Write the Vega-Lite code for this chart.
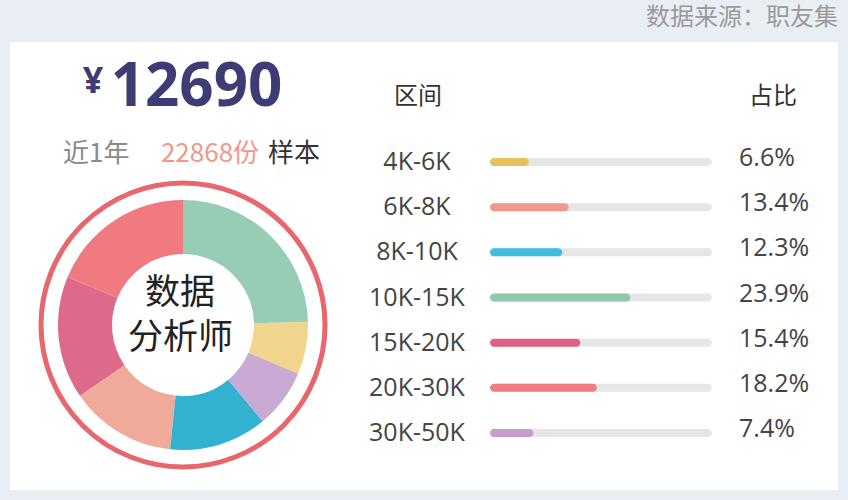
{
  "$schema": "https://vega.github.io/schema/vega-lite/v6.json",
  "background": "#e9eef5",
  "padding": {"left": 10, "right": 10, "top": 6, "bottom": 10},
  "title": {"text": "数据来源：职友集", "anchor": "end", "fontSize": 24, "font": "Noto Sans CJK SC", "fontWeight": "normal", "color": "#9a9a9a", "offset": 12},
  "datasets": {
    "salary": [
      {"range": "4K-6K", "share": 0.066, "slice": 2},
      {"range": "6K-8K", "share": 0.134, "slice": 5},
      {"range": "8K-10K", "share": 0.123, "slice": 4},
      {"range": "10K-15K", "share": 0.239, "slice": 1},
      {"range": "15K-20K", "share": 0.154, "slice": 6},
      {"range": "20K-30K", "share": 0.182, "slice": 7},
      {"range": "30K-50K", "share": 0.074, "slice": 3}
    ]
  },
  "spacing": 0,
  "resolve": {"scale": {"color": "independent"}},
  "hconcat": [
    {
      "spacing": 0,
      "vconcat": [
        {
          "width": 346,
          "height": 128,
          "view": {"fill": "#ffffff", "stroke": null},
          "layer": [
            {
              "data": {"values": [{"t": "¥"}]},
              "mark": {"type": "text", "font": "Open Sans", "fontWeight": "bold", "fontSize": 36, "color": "#3d3c74", "align": "center", "baseline": "alphabetic", "dx": -90, "dy": -13},
              "encoding": {"text": {"field": "t", "type": "nominal"}}
            },
            {
              "data": {"values": [{"t": "12690"}]},
              "mark": {"type": "text", "font": "Open Sans", "fontWeight": "bold", "fontSize": 60, "color": "#3d3c74", "align": "center", "baseline": "alphabetic", "dx": 13.5, "dy": 0},
              "encoding": {"text": {"field": "t", "type": "nominal"}}
            },
            {
              "data": {"values": [{"t": "近1年"}]},
              "mark": {"type": "text", "font": "Noto Sans CJK SC", "fontSize": 26, "color": "#8a8a8a", "align": "left", "baseline": "alphabetic", "dx": -120, "dy": 56},
              "encoding": {"text": {"field": "t", "type": "nominal"}}
            },
            {
              "data": {"values": [{"t": "22868份"}]},
              "mark": {"type": "text", "font": "Noto Sans CJK SC", "fontSize": 26, "color": "#f0998a", "align": "center", "baseline": "alphabetic", "dx": 27, "dy": 56},
              "encoding": {"text": {"field": "t", "type": "nominal"}}
            },
            {
              "data": {"values": [{"t": "样本"}]},
              "mark": {"type": "text", "font": "Noto Sans CJK SC", "fontSize": 26, "color": "#333333", "align": "left", "baseline": "alphabetic", "dx": 85, "dy": 56},
              "encoding": {"text": {"field": "t", "type": "nominal"}}
            }
          ]
        },
        {
          "width": 346,
          "height": 310,
          "view": {"fill": "#ffffff", "stroke": null},
          "layer": [
            {
              "data": {"values": [{"ring": "outer"}]},
              "mark": {"type": "point", "shape": "circle", "filled": false, "size": 80656, "strokeWidth": 5, "color": "#e8676c", "opacity": 1},
              "encoding": {"tooltip": {"field": "ring", "type": "nominal"}}
            },
            {
              "data": {"name": "salary"},
              "mark": {"type": "arc", "innerRadius": 71, "outerRadius": 125},
              "encoding": {
                "theta": {"field": "share", "type": "quantitative", "stack": true},
                "order": {"field": "slice", "type": "quantitative"},
                "color": {"field": "range", "type": "nominal", "legend": null,
                  "scale": {"domain": ["4K-6K", "6K-8K", "8K-10K", "10K-15K", "15K-20K", "20K-30K", "30K-50K"],
                            "range": ["#f1d58c", "#efaa9a", "#33b1d1", "#97cdb4", "#dd6a8b", "#ef7b80", "#c9aad4"]}}
              }
            },
            {
              "data": {"values": [{"t": "数据"}]},
              "mark": {"type": "text", "font": "Noto Sans CJK SC", "fontSize": 35, "color": "#222222", "align": "center", "baseline": "middle", "dx": -3, "dy": -32.5},
              "encoding": {"text": {"field": "t", "type": "nominal"}}
            },
            {
              "data": {"values": [{"t": "分析师"}]},
              "mark": {"type": "text", "font": "Noto Sans CJK SC", "fontSize": 35, "color": "#222222", "align": "center", "baseline": "middle", "dx": -2.5, "dy": 12.5},
              "encoding": {"text": {"field": "t", "type": "nominal"}}
            }
          ]
        },
        {
          "width": 346,
          "height": 10,
          "view": {"fill": "#ffffff", "stroke": null},
          "data": {"values": []},
          "mark": {"type": "text"},
          "encoding": {}
        }
      ]
    },
    {
      "width": 482,
      "height": 448,
      "view": {"fill": "#ffffff", "stroke": null},
      "layer": [
        {
          "data": {"values": [{"row": "header", "head": "区间", "col": -0.1227}, {"row": "header", "head": "占比", "col": 0.4821}]},
          "mark": {"type": "text", "font": "Noto Sans CJK SC", "fontSize": 24, "color": "#333333", "align": "center", "baseline": "middle", "dy": -20},
          "encoding": {
            "text": {"field": "head", "type": "nominal"},
            "x": {"field": "col", "type": "quantitative", "scale": {"domain": [-0.2283, 0.5928], "nice": false, "zero": false}, "axis": null},
            "y": {"field": "row", "type": "nominal", "axis": null,
              "scale": {"type": "band", "domain": ["header", "4K-6K", "6K-8K", "8K-10K", "10K-15K", "15K-20K", "20K-30K", "30K-50K", "end"], "paddingInner": 0.823, "paddingOuter": 0.87, "align": 0.901}}
          }
        },
        {
          "data": {"name": "salary"},
          "encoding": {
            "y": {"field": "range", "type": "nominal", "axis": null}
          },
          "layer": [
            {
              "mark": {"type": "bar", "cornerRadius": 4, "color": "#e6e6e6"},
              "encoding": {
                "x": {"datum": 0.378, "type": "quantitative", "stack": null}
              }
            },
            {
              "mark": {"type": "bar", "cornerRadius": 4},
              "encoding": {
                "x": {"field": "share", "type": "quantitative", "stack": null},
                "color": {"field": "range", "type": "nominal", "legend": null,
                  "scale": {"domain": ["4K-6K", "6K-8K", "8K-10K", "10K-15K", "15K-20K", "20K-30K", "30K-50K"],
                            "range": ["#e5c25a", "#ee9b8b", "#3ebde0", "#8ec9a9", "#df6080", "#f07f80", "#c89bd0"]}}
              }
            },
            {
              "mark": {"type": "text", "font": "Open Sans", "fontSize": 25, "color": "#444444", "align": "center", "baseline": "middle"},
              "encoding": {
                "text": {"field": "range", "type": "nominal"},
                "x": {"datum": -0.1244, "type": "quantitative"}
              }
            },
            {
              "mark": {"type": "text", "font": "Open Sans", "fontSize": 25, "color": "#444444", "align": "left", "baseline": "middle", "dy": -4},
              "encoding": {
                "text": {"field": "share", "type": "quantitative", "format": ".1%"},
                "x": {"datum": 0.4242, "type": "quantitative"}
              }
            }
          ]
        }
      ]
    }
  ],
  "config": {
    "view": {"fill": "#ffffff", "stroke": null},
    "style": {"cell": {"fill": "#ffffff", "stroke": null}}
  }
}
